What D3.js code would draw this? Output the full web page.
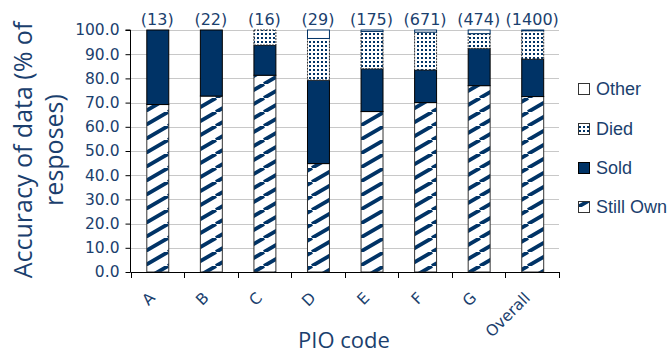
<!DOCTYPE html>
<html>
<head>
<meta charset="utf-8">
<script src="https://cdn.jsdelivr.net/npm/d3@7"></script>
<style>
  html, body { margin: 0; padding: 0; background: #fff; }
  svg { display: block; }
</style>
</head>
<body>
<svg id="chart" width="670" height="356"></svg>
<script>
// PIO codes and number of responses for each
const categories = ["A", "B", "C", "D", "E", "F", "G", "Overall"];
const counts = [13, 22, 16, 29, 175, 671, 474, 1400];

// Share of responses (%) per outcome
const stillOwn = [69.2, 72.7, 81.3, 44.8, 66.3, 70.0, 77.0, 72.5];
const sold     = [30.8, 27.3, 12.5, 34.5, 17.7, 13.5, 15.4, 15.5];
const died     = [0.0, 0.0, 6.2, 17.2, 15.4, 15.6, 6.1, 11.7];
const other    = [0.0, 0.0, 0.0, 3.5, 0.6, 0.9, 1.5, 0.3];

const yTicks = [0, 10, 20, 30, 40, 50, 60, 70, 80, 90, 100];
const seriesNames = ["Still Own", "Sold", "Died", "Other"];

(function draw() {
  const navy = "#003366";
  const textCol = "#1b3f6e";

  const rows = categories.map((c, i) => ({
    cat: c,
    "Still Own": stillOwn[i],
    "Sold": sold[i],
    "Died": died[i],
    "Other": other[i]
  }));
  const stacked = d3.stack().keys(seriesNames)(rows);

  const svg = d3.select("#chart");
  const defs = svg.append("defs");

  // Wide upward diagonal stripes
  const stripe = defs.append("pattern")
    .attr("id", "stripes").attr("patternUnits", "userSpaceOnUse")
    .attr("width", 24).attr("height", 14);
  stripe.append("rect").attr("width", 24).attr("height", 14).attr("fill", "#fff");
  stripe.append("path")
    .attr("d", "M-24,14L0,0M0,14L24,0M24,14L48,0")
    .attr("stroke", navy).attr("stroke-width", 3.8).attr("fill", "none");

  // Small dot grid
  const dots = defs.append("pattern")
    .attr("id", "dots").attr("patternUnits", "userSpaceOnUse")
    .attr("width", 4).attr("height", 4);
  dots.append("rect").attr("width", 4).attr("height", 4).attr("fill", "#fff");
  dots.append("rect").attr("x", 1).attr("y", 1).attr("width", 2).attr("height", 2).attr("fill", navy);

  const styleOf = {
    "Still Own": { fill: "url(#stripes)", stroke: "#333", dash: null },
    "Sold":      { fill: navy, stroke: "#000", dash: null },
    "Died":      { fill: "url(#dots)", stroke: "#333", dash: "2,1" },
    "Other":     { fill: "#fff", stroke: navy, dash: null }
  };

  const plotLeft = 130.5, plotRight = 559, plotTop = 30, plotBottom = 272;
  const x = d3.scaleBand().domain(categories).range([plotLeft, plotRight])
    .paddingInner(0.59).paddingOuter(0.295);
  const y = d3.scaleLinear().domain([0, 100]).range([plotBottom, plotTop]);
  const step = x.step();

  // Gridlines
  svg.append("g").selectAll("line").data(yTicks.filter(t => t > 0)).join("line")
    .attr("x1", plotLeft).attr("x2", plotRight)
    .attr("y1", d => Math.round(y(d)) + 0.5).attr("y2", d => Math.round(y(d)) + 0.5)
    .attr("stroke", "#c8c8c8").attr("stroke-width", 1);

  // Stacked bars
  svg.append("g").selectAll("g").data(stacked).join("g")
    .each(function(layer) {
      const st = styleOf[layer.key];
      d3.select(this).selectAll("rect")
        .data(layer.filter(d => d[1] - d[0] > 0))
        .join("rect")
        .attr("x", d => x(d.data.cat) + 0.5)
        .attr("width", x.bandwidth())
        .attr("y", d => y(d[1]))
        .attr("height", d => y(d[0]) - y(d[1]))
        .attr("fill", st.fill)
        .attr("stroke", st.stroke)
        .attr("stroke-width", 1)
        .attr("stroke-dasharray", st.dash);
    });

  // Y axis
  const yAxis = d3.axisLeft(y).tickValues(yTicks).tickSize(5).tickPadding(6)
    .tickFormat(d3.format(".1f"));
  const gy = svg.append("g").attr("transform", `translate(${plotLeft},0)`).call(yAxis);
  gy.select(".domain").attr("stroke", "#000").attr("d", `M-5,${plotTop}H0V${plotBottom}`);
  gy.selectAll(".tick line").attr("stroke", "#000");
  gy.selectAll(".tick text")
    .attr("fill", textCol)
    .style("font-family", "DejaVu Sans")
    .style("font-size", "15.5px");

  // X axis: boundary ticks between categories
  const boundaries = categories.map(c => x(c) - step * 0.295).concat([plotRight]);
  svg.append("line").attr("x1", plotLeft).attr("x2", plotRight)
    .attr("y1", plotBottom + 0.5).attr("y2", plotBottom + 0.5).attr("stroke", "#000");
  svg.append("g").selectAll("line").data(boundaries).join("line")
    .attr("x1", d => Math.round(d) + 0.5).attr("x2", d => Math.round(d) + 0.5)
    .attr("y1", plotBottom).attr("y2", plotBottom + 6).attr("stroke", "#000");

  // Category labels, rotated
  svg.append("g").selectAll("text").data(categories).join("text")
    .attr("transform", d => `translate(${x(d) + x.bandwidth() / 2 - 5},${plotBottom + 23}) rotate(-45)`)
    .attr("text-anchor", "end")
    .attr("dy", "0.35em")
    .attr("fill", textCol)
    .style("font-family", "DejaVu Sans")
    .style("font-size", "15.5px")
    .text(d => d);

  // Response counts above bars
  svg.append("g").selectAll("text").data(categories).join("text")
    .attr("x", d => x(d) + x.bandwidth() / 2)
    .attr("y", 25)
    .attr("text-anchor", "middle")
    .attr("fill", textCol)
    .style("font-family", "DejaVu Sans")
    .style("font-size", "16px")
    .text((d, i) => `(${counts[i]})`);

  // Axis titles
  const yTitle = svg.append("text")
    .attr("transform", "translate(0,150) rotate(-90)")
    .attr("text-anchor", "middle")
    .attr("fill", textCol)
    .style("font-family", "Open Sans")
    .style("font-size", "25px");
  yTitle.append("tspan").attr("x", 0).attr("y", 32).text("Accuracy of data (% of");
  yTitle.append("tspan").attr("x", 0).attr("y", 63).text("resposes)");

  svg.append("text")
    .attr("x", 344).attr("y", 348)
    .attr("text-anchor", "middle")
    .attr("fill", textCol)
    .style("font-family", "Open Sans")
    .style("font-size", "22px")
    .text("PIO code");

  // Legend
  const legendItems = ["Other", "Died", "Sold", "Still Own"];
  const legendY = [89, 129, 168, 207];
  const lg = svg.append("g").selectAll("g").data(legendItems).join("g")
    .attr("transform", (d, i) => `translate(578,${legendY[i]})`);
  lg.append("rect")
    .attr("x", 0.5).attr("y", -5.5).attr("width", 11).attr("height", 11)
    .attr("fill", d => styleOf[d].fill)
    .attr("stroke", d => d === "Other" ? "#333" : styleOf[d].stroke);
  lg.append("text")
    .attr("x", 18).attr("dy", "0.36em")
    .attr("fill", textCol)
    .style("font-family", "Liberation Sans")
    .style("font-size", "18px")
    .text(d => d);
})();
</script>
</body>
</html>
